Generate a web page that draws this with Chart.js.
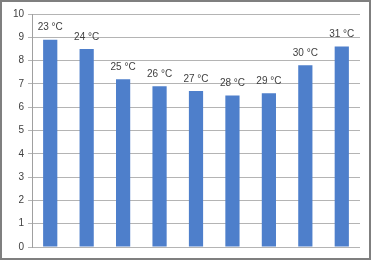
<!DOCTYPE html>
<html><head><meta charset="utf-8">
<script src="https://cdn.jsdelivr.net/npm/chart.js@4/dist/chart.umd.min.js"></script>
<style>html,body{margin:0;padding:0;background:#fff}#wrap{width:371px;height:260px;position:relative}</style>
</head><body><div id="wrap"><canvas id="c" width="371" height="260"></canvas></div>
<script>
const categories = ["23 °C","24 °C","25 °C","26 °C","27 °C","28 °C","29 °C","30 °C","31 °C"];
const values = [8.9, 8.5, 7.2, 6.9, 6.7, 6.5, 6.6, 7.8, 8.6];
const yTicks = [0,1,2,3,4,5,6,7,8,9,10];

const framePlugin = {
  id: 'frame',
  beforeDraw(chart){
    const ctx = chart.ctx;
    ctx.save();
    ctx.fillStyle = '#fff';
    ctx.fillRect(0,0,chart.width,chart.height);
    ctx.restore();
  },
  afterDraw(chart){
    const ctx = chart.ctx;
    ctx.save();
    ctx.strokeStyle = '#7f7f7f';
    ctx.lineWidth = 2;
    ctx.strokeRect(1,1,chart.width-2,chart.height-2);
    ctx.restore();
  }
};
const labelPlugin = {
  id: 'barLabels',
  afterDatasetsDraw(chart){
    const ctx = chart.ctx;
    const meta = chart.getDatasetMeta(0);
    ctx.save();
    ctx.font = '10px "Liberation Sans", Arial, sans-serif';
    ctx.fillStyle = '#404040';
    ctx.textAlign = 'center';
    ctx.textBaseline = 'bottom';
    meta.data.forEach((bar,i)=>{
      ctx.fillText(categories[i], bar.x, bar.y - 7);
    });
    ctx.restore();
  }
};

new Chart(document.getElementById('c'), {
  type: 'bar',
  data: { labels: categories, datasets: [{ data: values, backgroundColor: '#4e7fcb', borderWidth: 0, categoryPercentage: 1, barPercentage: 0.39 }] },
  options: {
    responsive: false, animation: false,
    layout: { padding: { left: 0, top: 14, right: 11, bottom: 13 } },
    plugins: { legend: { display: false }, tooltip: { enabled: false } },
    scales: {
      x: { display: false, grid: { display: false } },
      y: {
        min: 0, max: 10,
        afterFit(scale){ scale.width = 32; },
        afterBuildTicks(scale){ scale.ticks = yTicks.map(v=>({value:v})); },
        grid: { color: '#b4b4b4', lineWidth: 1, drawTicks: true, tickLength: 4, tickColor: '#b4b4b4' },
        border: { display: true, color: '#a0a0a0' },
        ticks: { color: '#404040', padding: 4, font: { family: '"Liberation Sans", Arial, sans-serif', size: 10 } }
      }
    }
  },
  plugins: [framePlugin, labelPlugin]
});
</script></body></html>
